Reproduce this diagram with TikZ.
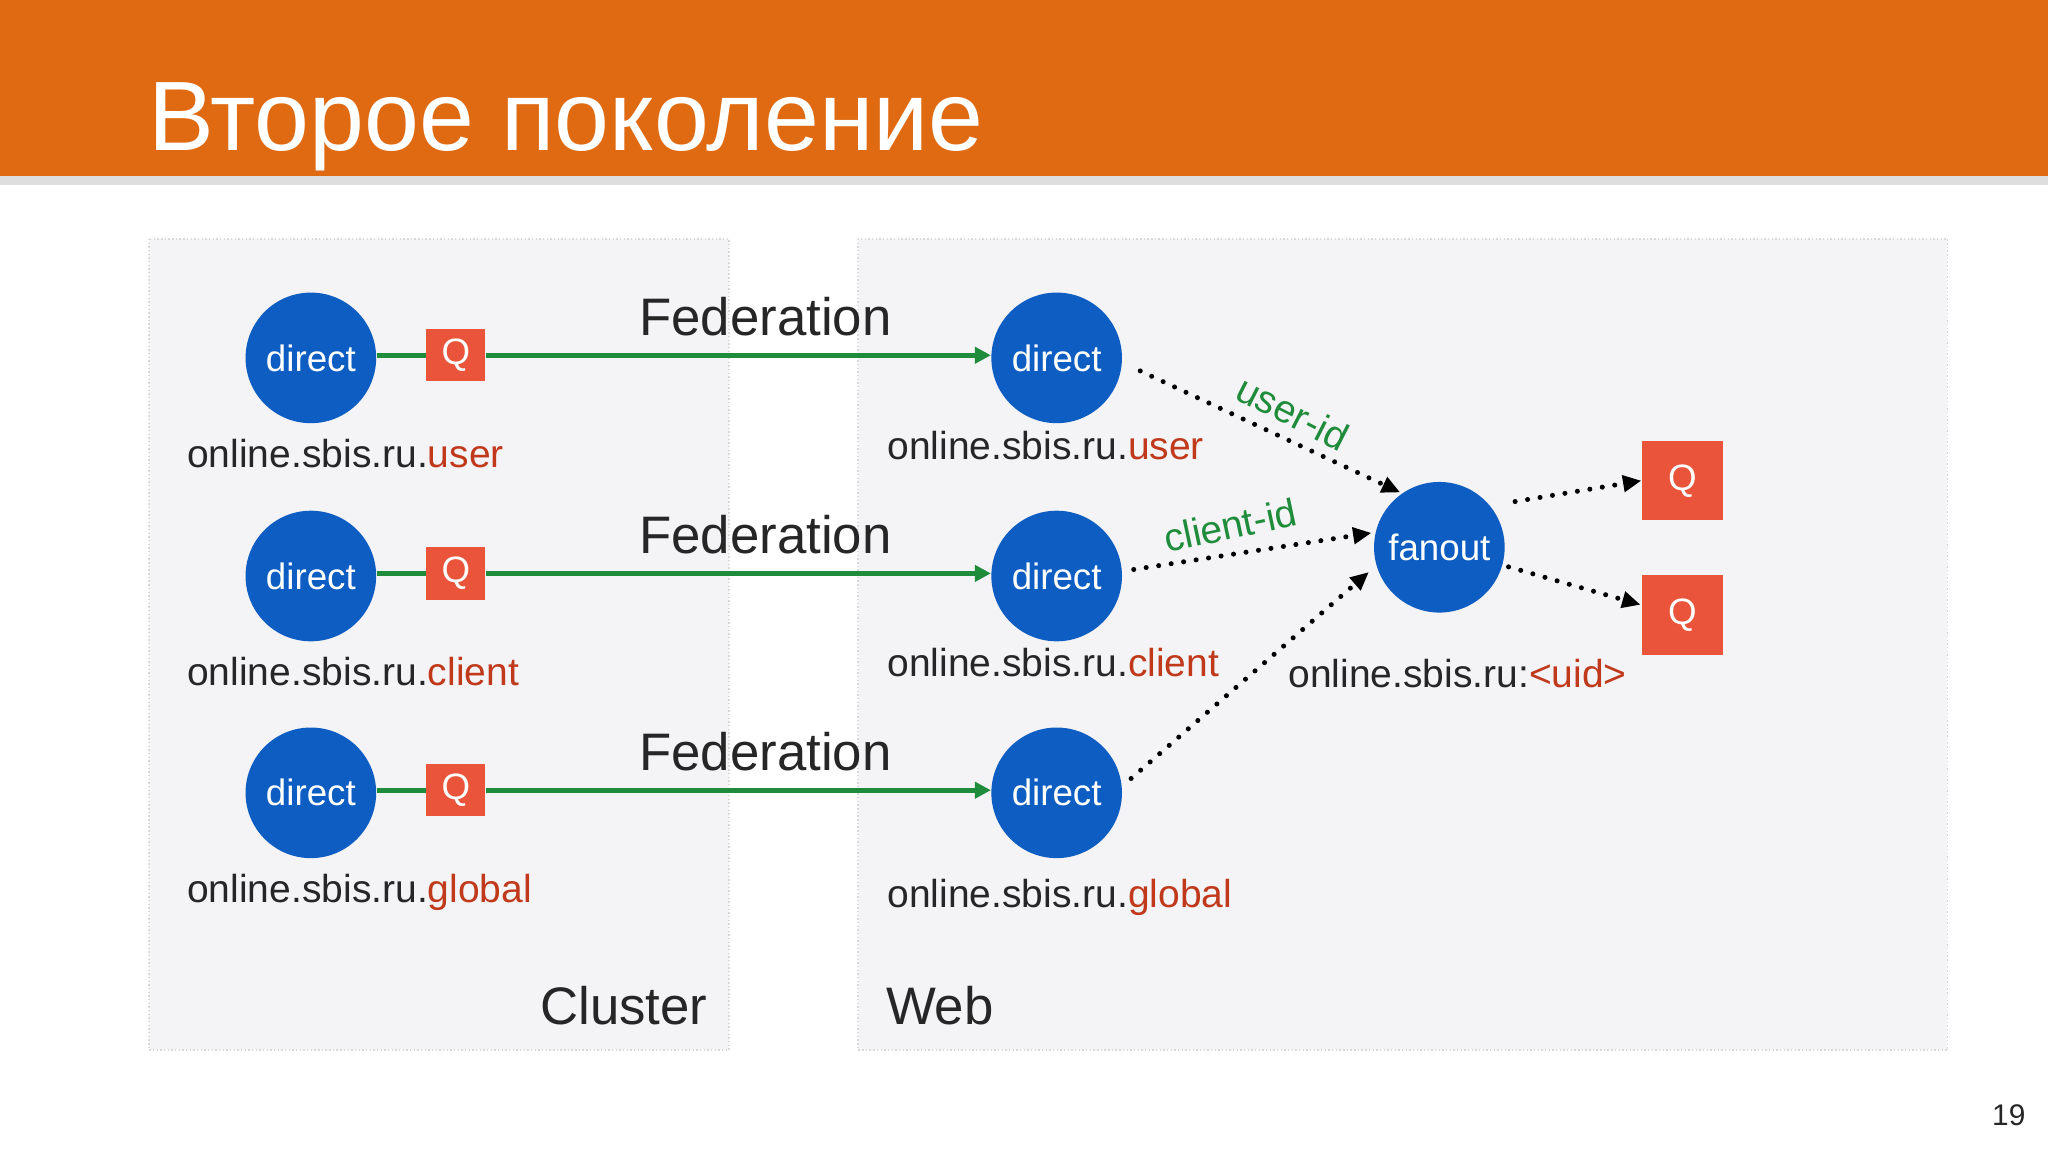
\documentclass[tikz,border=0pt]{standalone}
\usepackage{fontspec}
\setmainfont{Liberation Sans}
\usetikzlibrary{arrows.meta}
\definecolor{org}{HTML}{E06A12}
\definecolor{bx}{HTML}{F4F3F6}
\definecolor{blu}{HTML}{0E5DC2}
\definecolor{qr}{HTML}{E9543A}
\definecolor{grn}{HTML}{1E8C3A}
\definecolor{rd}{HTML}{C0391B}
\tikzset{
 circ/.style={circle,fill=blu,minimum size=100*0.02cm,inner sep=0pt,text=white,font=\fontsize{16}{18}\selectfont},
 qbox/.style={fill=qr,text=white,inner sep=0pt,font=\fontsize{16}{18}\selectfont},
 lbl/.style={anchor=base west,inner sep=0pt,font=\fontsize{17}{20}\selectfont,text=black!85},
 fed/.style={font=\fontsize{23}{28}\selectfont,inner sep=0pt,anchor=base,text=black!85},
 garr/.style={grn,line width=2.2pt,-{Triangle[length=7pt,width=7pt]}},
 dots/.style={line width=2.2pt,line cap=round,dash pattern=on 0pt off 5.5pt,-{Triangle[length=8pt,width=7pt]}},
 zone/.style={fill=bx,draw=black!15,densely dotted,line width=0.6pt},
 tag/.style={text=grn,font=\fontsize{17}{20}\selectfont,inner sep=0pt}
}
\begin{document}
\begin{tikzpicture}[x=0.02cm,y=-0.02cm]
\useasboundingbox (0,0) rectangle (1568,882);
\fill[white] (0,0) rectangle (1568,882);
\fill[org] (0,0) rectangle (1568,135);
\fill[black!13] (0,135) rectangle (1568,142);
\node[anchor=base west,inner sep=0pt,text=white,font=\fontsize{43}{50}\selectfont] (title) at (113,115) {Второе поколение};
\draw[zone] (114,183) rectangle (558,804);
\draw[zone] (657,183) rectangle (1491,804);
\foreach \n/\y/\s in {a/274/user,b/441/client,c/607/global}{
 \node[circ] (L\n) at (238,\y) {direct};
 \node[qbox,minimum width=45*0.02cm,minimum height=40*0.02cm] (Q\n) at (349,\y-2) {Q};
 \node[circ] (R\n) at (809,\y) {direct};
 \draw[grn,line width=2.2pt] (L\n.east |- Q\n.west) -- (Q\n.west);
 \draw[garr] (Q\n.east) -- (R\n.west |- Q\n.east);
 \node[fed] (F\n) at (586,\y-17) {Federation};
 \node[lbl] (LL\n) at (143,\y+84) {online.sbis.ru.\textcolor{rd}{\s}};
}
\node[lbl] (RLa) at (679,352) {online.sbis.ru.\textcolor{rd}{user}};
\node[lbl] (RLb) at (679,518) {online.sbis.ru.\textcolor{rd}{client}};
\node[lbl] (RLc) at (679,695) {online.sbis.ru.\textcolor{rd}{global}};
\node[circ] (fan) at (1102,419) {fanout};
\node[lbl] (fl) at (986,526) {online.sbis.ru:\textcolor{rd}{<uid>}};
\node[qbox,minimum width=62*0.02cm,minimum height=61*0.02cm] (Q1) at (1288,368) {Q};
\node[qbox,minimum width=62*0.02cm,minimum height=61*0.02cm] (Q2) at (1288,471) {Q};
\coordinate (sa) at (873,284);
\coordinate (sb) at (868,436);
\coordinate (sc) at (866,596);
\draw[dots] (sa) -- (1072,377);
\draw[dots] (sb) -- (1050,408);
\draw[dots] (sc) -- (1048,438);
\draw[dots] (1160,384) -- (Q1.west);
\draw[dots] (1155,434) -- (1256,463);
\node[tag,rotate=-27] (uid) at (990,316) {user-id};
\node[tag,rotate=12] (cid) at (942,402) {client-id};
\node[fed,anchor=base east] (cl) at (542,784) {Cluster};
\node[fed,anchor=base west] (web) at (678,784) {Web};
\node[anchor=base east,inner sep=0pt,font=\fontsize{13}{15}\selectfont,text=black!85] (pg) at (1551,862) {19};
\end{tikzpicture}
\end{document}
